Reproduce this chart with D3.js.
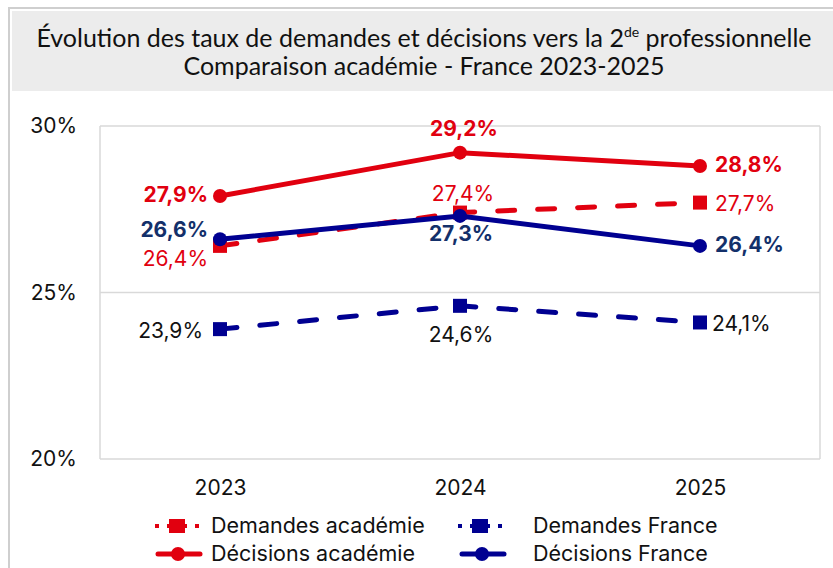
<!DOCTYPE html>
<html>
<head>
<meta charset="utf-8">
<script src="https://cdn.jsdelivr.net/npm/d3@7"></script>
<style>
  body { margin: 0; background: #fff; }
  svg { display: block; }
</style>
</head>
<body>
<svg id="chart" width="833" height="568"></svg>
<script>
const years = ["2023", "2024", "2025"];
const demandesAcademie = [26.4, 27.4, 27.7];
const demandesFrance = [23.9, 24.6, 24.1];
const decisionsAcademie = [27.9, 29.2, 28.8];
const decisionsFrance = [26.6, 27.3, 26.4];
const yTicks = [20, 25, 30];

const red = "#e1000f";
const blue = "#000091";
const navyText = "#13306a";

const series = [
  { name: "Demandes académie", values: demandesAcademie, color: red, dashed: true, labelColor: red, bold: false },
  { name: "Demandes France", values: demandesFrance, color: blue, dashed: true, labelColor: "#111", bold: false },
  { name: "Décisions académie", values: decisionsAcademie, color: red, dashed: false, labelColor: red, bold: true },
  { name: "Décisions France", values: decisionsFrance, color: blue, dashed: false, labelColor: navyText, bold: true }
];

// where each data label sits relative to its point (dx, dy to baseline, anchor)
const labelPlacement = [
  [[-12, 20, "end"], [3, -12, "middle"], [15, 8, "start"]],
  [[-17, 9, "end"], [1, 36, "middle"], [12, 9, "start"]],
  [[-12, 6, "end"], [4, -17, "middle"], [15, 6, "start"]],
  [[-12, -2, "end"], [1, 25, "middle"], [15, 6, "start"]]
];

const svg = d3.select("#chart");
const numFont = "Inter, Lato, sans-serif";
const titleFont = "Lato, 'Open Sans', sans-serif";

// outer frame and title box
svg.append("rect").attr("x", 9).attr("y", 8).attr("width", 840).attr("height", 580)
  .attr("fill", "none").attr("stroke", "#cfcfcf").attr("stroke-width", 2);
svg.append("rect").attr("x", 12).attr("y", 11).attr("width", 830).attr("height", 80)
  .attr("fill", "#ececec");

const title1 = svg.append("text").attr("x", 424).attr("y", 47).attr("text-anchor", "middle")
  .attr("font-family", titleFont).attr("font-size", 25).attr("fill", "#111");
title1.append("tspan").text("Évolution des taux de demandes et décisions vers la 2");
title1.append("tspan").attr("font-size", 14).attr("dy", -10).text("de");
title1.append("tspan").attr("dy", 10).text(" professionnelle");
svg.append("text").attr("x", 424).attr("y", 75).attr("text-anchor", "middle")
  .attr("font-family", titleFont).attr("font-size", 25).attr("fill", "#111")
  .text("Comparaison académie - France 2023-2025");

const plot = { left: 100, right: 820, top: 126, bottom: 459 };
const x = d3.scalePoint().domain(years).range([plot.left, plot.right]).padding(0.5);
const y = d3.scaleLinear().domain([20, 30]).range([plot.bottom, plot.top]);

// grid and plot frame
svg.append("g").selectAll("line").data(yTicks).join("line")
  .attr("x1", plot.left).attr("x2", plot.right)
  .attr("y1", d => y(d)).attr("y2", d => y(d))
  .attr("stroke", "#d9d9d9").attr("stroke-width", 1.5);
[plot.left, plot.right].forEach(px => {
  svg.append("line").attr("x1", px).attr("x2", px)
    .attr("y1", plot.top).attr("y2", plot.bottom)
    .attr("stroke", "#d9d9d9").attr("stroke-width", 1.5);
});

// y axis labels
const yAxis = svg.append("g").attr("transform", "translate(80,0)")
  .call(d3.axisLeft(y).tickValues(yTicks).tickSize(0).tickFormat(d => d + "%"));
yAxis.select(".domain").remove();
yAxis.selectAll("text").attr("font-family", numFont).attr("font-size", 21).attr("fill", "#111");

// x axis labels
const xAxis = svg.append("g").attr("transform", "translate(0,477)")
  .call(d3.axisBottom(x).tickSize(0));
xAxis.select(".domain").remove();
xAxis.selectAll("text").attr("font-family", numFont).attr("font-size", 21).attr("fill", "#111");

const line = d3.line().x((d, i) => x(years[i])).y(d => y(d));
const fmt = v => v.toFixed(1).replace(".", ",") + "%";

series.forEach(s => {
  svg.append("path").datum(s.values).attr("d", line)
    .attr("fill", "none").attr("stroke", s.color).attr("stroke-width", 5)
    .attr("stroke-linecap", s.dashed ? "round" : "butt")
    .attr("stroke-dasharray", s.dashed ? "17,23" : null);

  s.values.forEach((v, i) => {
    const cx = x(years[i]), cy = y(v);
    if (s.dashed) {
      svg.append("rect").attr("x", cx - 7).attr("y", cy - 7).attr("width", 14).attr("height", 14)
        .attr("fill", s.color);
    } else {
      svg.append("circle").attr("cx", cx).attr("cy", cy).attr("r", 7).attr("fill", s.color);
    }
  });
});

// data labels on top
series.forEach((s, si) => {
  s.values.forEach((v, i) => {
    const [dx, dy, anchor] = labelPlacement[si][i];
    svg.append("text")
      .attr("x", x(years[i]) + dx).attr("y", y(v) + dy)
      .attr("text-anchor", anchor)
      .attr("font-family", numFont).attr("font-size", 21)
      .attr("font-weight", s.bold ? "bold" : "normal")
      .attr("fill", s.labelColor).text(fmt(v));
  });
});

// legend
const legendSymbolX = [155, 458, 156, 460];
const legendRowY = [526, 526, 554, 554];
const legendTextX = [211, 533, 211, 533];
series.forEach((s, i) => {
  const g = svg.append("g").attr("transform", `translate(${legendSymbolX[i]},${legendRowY[i]})`);
  if (s.dashed) {
    g.append("line").attr("x1", 0).attr("x2", 44).attr("y1", 0).attr("y2", 0)
      .attr("stroke", s.color).attr("stroke-width", 4).attr("stroke-dasharray", "4,8,20,8,4");
    g.append("rect").attr("x", 14).attr("y", -7).attr("width", 16).attr("height", 14).attr("fill", s.color);
  } else {
    g.append("line").attr("x1", 2).attr("x2", 44).attr("y1", 0).attr("y2", 0)
      .attr("stroke", s.color).attr("stroke-width", 5).attr("stroke-linecap", "round");
    g.append("circle").attr("cx", 22).attr("cy", 0).attr("r", 7).attr("fill", s.color);
  }
  svg.append("text").attr("x", legendTextX[i]).attr("y", legendRowY[i] + 7)
    .attr("font-family", numFont).attr("font-size", 21.5).attr("fill", "#111").text(s.name);
});
</script>
</body>
</html>
